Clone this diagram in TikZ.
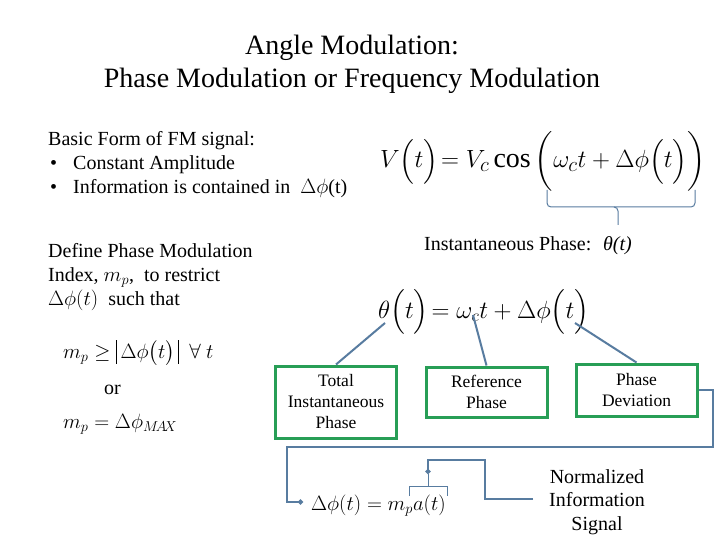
\documentclass[tikz,border=0pt]{standalone}
\usepackage{amsmath}
\usepackage{fontspec}
\setmainfont{Liberation Serif}
\usetikzlibrary{arrows.meta}
\definecolor{boxgreen}{RGB}{40,158,86}
\definecolor{conncol}{RGB}{88,124,160}
\newcommand{\absbar}{\rule[-0.28em]{0.05em}{1.2em}}
\tikzset{
  greenbox/.style={draw=boxgreen,line width=3pt,align=center,inner sep=0pt,
    font=\fontsize{17.5}{21}\selectfont},
  conn/.style={draw=conncol,line width=2pt},
  thinconn/.style={draw=conncol,line width=1pt},
  dotend/.style={-{Circle[length=5pt]}},
  bodytext/.style={font=\fontsize{20}{24}\selectfont,align=left,inner sep=0pt},
}
\begin{document}
\begin{tikzpicture}[x=1pt,y=-1pt]
\useasboundingbox[fill=white] (0,0) rectangle (720,540);
% title
\node[font=\fontsize{28}{33}\selectfont,align=center,inner sep=0pt,anchor=base] (title) at (352,88)
  {Angle Modulation:\\Phase Modulation or Frequency Modulation};
% basic form text
\node[bodytext,anchor=base west] (basic) at (48,146) {Basic Form of FM signal:};
\node[bodytext,anchor=base west] (bul1) at (50,170) {\textbullet};
\node[bodytext,anchor=base west] (bul1t) at (73,170) {Constant Amplitude};
\node[bodytext,anchor=base west] (bul2) at (50,194) {\textbullet};
\node[bodytext,anchor=base west] (bul2t) at (73,194) {Information is contained in \ $\Delta\phi$(t)};
% V equation
\node[font=\fontsize{28}{30}\selectfont,inner sep=0pt,anchor=base west] (veq) at (380,168)
  {$V\Big(t\Big)\!=V_c\cos\bigg(\omega_c t+\Delta\phi\Big(t\Big)\bigg)$};
% brace under
\coordinate (brL) at (547,190);
\coordinate (brR) at (695,190);
\coordinate (brM) at (618,225);
\draw[thinconn,rounded corners=4pt] (brL) -- (547,207) -- (618,207) -- (brM);
\draw[thinconn,rounded corners=4pt] (brR) -- (695,207) -- (614,207);
% instantaneous phase
\node[bodytext,anchor=base west] (inst) at (424,251) {Instantaneous Phase: \ \textit{θ(t)}};
% define text
\node[bodytext,anchor=base west] (def1) at (48,257) {Define Phase Modulation};
\node[bodytext,anchor=base west] (def2) at (48,281) {Index, $m_p$, \ to restrict};
\node[bodytext,anchor=base west] (def3) at (48,305) {$\Delta\phi(t)$ \ such that};
% theta equation
\node[font=\fontsize{24}{28}\selectfont,inner sep=0pt,anchor=base west] (theq) at (378,318)
  {$\theta\Big(t\Big)\!=\omega_c t+\Delta\phi\Big(t\Big)$};
% left equations
\node[font=\fontsize{20}{24}\selectfont,inner sep=0pt,anchor=base west] (mp1) at (63,358)
  {$m_p\ge\absbar\,\Delta\phi\big(t\big)\,\absbar\ \ \forall\ t$};
\node[font=\fontsize{20}{24}\selectfont,inner sep=0pt,anchor=base west] (or) at (104,394) {or};
\node[font=\fontsize{20}{24}\selectfont,inner sep=0pt,anchor=base west] (mp2) at (63,428)
  {$m_p=\Delta\phi_{M\!A\!X}$};
% boxes
\node[greenbox,minimum width=121pt,minimum height=72pt] (b1) at (336,402)
  {Total\\Instantaneous\\Phase};
\node[greenbox,minimum width=121pt,minimum height=50pt] (b2) at (486.5,392)
  {Reference\\Phase};
\node[greenbox,minimum width=121pt,minimum height=52pt] (b3) at (636.5,390)
  {Phase\\Deviation};
% tips on equation
\coordinate (tipth) at (385,323);
\coordinate (tipom) at (473,315);
\coordinate (tipdp) at (575,323);
\draw[conn] (b1.north) -- (tipth);
\draw[conn] (b2.north) -- (tipom);
\draw[conn] (b3.north) -- (tipdp);
% bottom equation
\node[font=\fontsize{21}{26}\selectfont,inner sep=0pt,anchor=base west] (dpeq) at (311,510)
  {$\Delta\phi(t)=m_p a(t)$};
\coordinate (dptip) at (303,502);
\draw[conn,dotend] (b3.east) -- (713,390) -- (713,447) -- (287,447) -- (287,502) -- (dptip);
% normalized
\node[font=\fontsize{20}{23.5}\selectfont,align=center,inner sep=0pt,anchor=base] (norm) at (597,530)
  {Normalized\\Information\\Signal};
% small bracket over a(t)
\coordinate (sbM) at (428,474);
\draw[thinconn] (409,496) -- (409,486) -- (447,486) -- (447,496);
\draw[thinconn] (428,486) -- (sbM);
\draw[conn,dotend] (533,499) -- (485,499) -- (485,460) -- (428,460) -- (sbM);
\end{tikzpicture}
\end{document}
